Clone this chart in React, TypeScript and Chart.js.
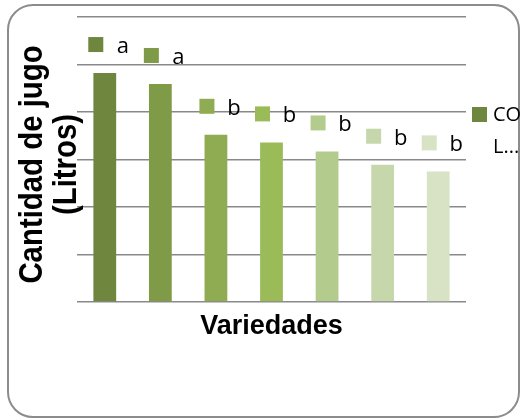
import React, { useEffect, useRef } from 'react';
import { Chart, registerables } from 'chart.js';

Chart.register(...registerables);

const categories = ['Var. 1', 'Var. 2', 'Var. 3', 'Var. 4', 'Var. 5', 'Var. 6', 'Var. 7'];
const juiceValues = [48.2, 45.9, 35.2, 33.6, 31.7, 28.9, 27.5];
const groupLetters = ['a', 'a', 'b', 'b', 'b', 'b', 'b'];
const barColors = ['#6f863e', '#7f9b48', '#8fac52', '#9bbb59', '#b3cb8c', '#c6d8ab', '#d8e3c6'];
const yMin = 0;
const yMax = 60;
const yStep = 10;
const yTitleLines = ['Cantidad de jugo', '(Litros)'];
const xTitle = 'Variedades';
const legendLines = ['CO', 'L...'];

const labelPlugin = {
  id: 'groupLabels',
  afterDatasetsDraw(chart: any) {
    const ctx = chart.ctx;
    const meta = chart.getDatasetMeta(0);
    ctx.save();
    meta.data.forEach((bar: any, i: number) => {
      const { x, y } = bar.getProps(['x', 'y'], true);
      const top = y - 36;
      ctx.fillStyle = barColors[i];
      ctx.fillRect(x - 16.5, top, 15, 15);
      ctx.fillStyle = '#000';
      ctx.font = '22px "Open Sans"';
      ctx.textAlign = 'center';
      ctx.textBaseline = 'alphabetic';
      ctx.fillText(groupLetters[i], x + 18, top + 16);
    });
    ctx.restore();
  },
};

const sideTextPlugin = {
  id: 'sideText',
  afterDraw(chart: any) {
    const ctx = chart.ctx;
    const area = chart.chartArea;
    ctx.save();
    // y title, slightly condensed along its length
    const cy = (area.top + area.bottom) / 2 + 5;
    ctx.fillStyle = '#000';
    ctx.font = 'bold 33px "Liberation Sans"';
    ctx.textAlign = 'center';
    ctx.textBaseline = 'alphabetic';
    const baselines = [area.left - 35, area.left - 1];
    yTitleLines.forEach((line, i) => {
      ctx.save();
      ctx.translate(baselines[i], cy);
      ctx.rotate(-Math.PI / 2);
      ctx.scale(0.89, 1);
      ctx.fillText(line, 0, 0);
      ctx.restore();
    });
    // legend
    const lx = area.right + 6;
    const ly = area.top + 90;
    ctx.fillStyle = barColors[0];
    ctx.fillRect(lx, ly, 15, 15);
    ctx.fillStyle = '#000';
    ctx.font = '20px "Open Sans"';
    ctx.textAlign = 'left';
    legendLines.forEach((t, i) => {
      ctx.fillText(t, lx + 21, ly + 14 + i * 32);
    });
    ctx.restore();
  },
};

export default function App() {
  const canvasRef = useRef<HTMLCanvasElement | null>(null);

  useEffect(() => {
    const canvas = canvasRef.current;
    if (!canvas) return;
    const chart = new Chart(canvas, {
      type: 'bar',
      data: {
        labels: categories,
        datasets: [
          {
            label: legendLines.join(' '),
            data: juiceValues,
            backgroundColor: barColors,
            borderWidth: 0,
            categoryPercentage: 1,
            barPercentage: 0.41,
          },
        ],
      },
      options: {
        animation: false,
        responsive: false,
        maintainAspectRatio: false,
        layout: { padding: { left: 0, top: 17, right: 55, bottom: 76 } },
        plugins: {
          legend: { display: false },
          tooltip: { enabled: false },
        },
        scales: {
          x: {
            grid: { display: false, drawTicks: false },
            border: { display: false },
            ticks: { display: false },
            title: {
              display: true,
              text: xTitle,
              color: '#000',
              font: { family: '"Liberation Sans"', weight: 'bold', size: 27, lineHeight: 1.2 },
              padding: { top: 0, bottom: 0 },
            },
            afterFit(scale: any) {
              scale.height = 41;
            },
          },
          y: {
            min: yMin,
            max: yMax,
            grid: { color: '#898989', lineWidth: 1.6, drawTicks: false },
            border: { display: false },
            ticks: { display: false, stepSize: yStep },
            afterFit(scale: any) {
              scale.width = 77;
            },
          },
        },
      },
      plugins: [labelPlugin, sideTextPlugin],
    });
    return () => chart.destroy();
  }, []);

  return (
    <div style={{ position: 'fixed', left: 0, top: 0, width: 521, height: 419, background: '#fff', overflow: 'hidden' }}>
      <div
        style={{
          position: 'absolute',
          left: 7,
          top: 4,
          width: 513,
          height: 414,
          boxSizing: 'border-box',
          border: '2px solid #8c8c8c',
          borderRadius: 26,
        }}
      />
      <canvas ref={canvasRef} width={521} height={419} style={{ position: 'absolute', left: 0, top: 0, width: 521, height: 419 }} />
    </div>
  );
}
